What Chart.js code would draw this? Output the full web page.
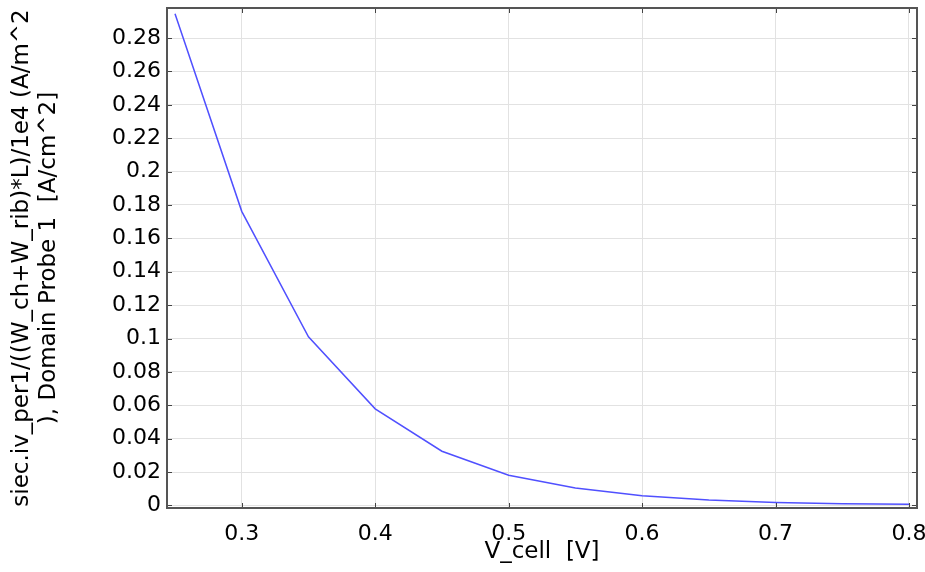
<!DOCTYPE html>
<html>
<head>
<meta charset="utf-8">
<script src="https://cdn.jsdelivr.net/npm/chart.js@4"></script>
<style>
  html, body { margin: 0; padding: 0; background: #fff; }
  #wrap { width: 925px; height: 572px; position: relative; }
</style>
</head>
<body>
<div id="wrap"><canvas id="iv-curve"></canvas></div>
<script>
// cell voltage [V] and current density [A/cm^2]
let cellVoltage = [0.25, 0.3, 0.35, 0.4, 0.45, 0.5, 0.55, 0.6, 0.65, 0.7, 0.75, 0.8];
let currentDensity = [0.2946, 0.1762, 0.101, 0.0579, 0.0325, 0.0181, 0.0105, 0.0059, 0.0033, 0.0018, 0.0011, 0.0007];

let xTickValues = [0.3, 0.4, 0.5, 0.6, 0.7, 0.8];
let yTickValues = [0, 0.02, 0.04, 0.06, 0.08, 0.1, 0.12, 0.14, 0.16, 0.18, 0.2, 0.22, 0.24, 0.26, 0.28];

let xTitle = 'V_cell  [V]';
let yTitle = ['siec.iv_per1/((W_ch+W_rib)*L)/1e4 (A/m^2', '), Domain Probe 1  [A/cm^2]'];

let fontFamily = '"DejaVu Sans", sans-serif';

// strip float noise from the tick values
function fmt(v) {
    return String(parseFloat(v.toFixed(4)));
}

// frame around the plot with small ticks pointing inwards on all four sides
const frameTicks = {
    id: 'frameTicks',
    afterDraw(chart) {
        let ctx = chart.ctx;
        let area = chart.chartArea;
        let xs = chart.scales.x, ys = chart.scales.y;
        let len = 5;
        ctx.save();
        ctx.strokeStyle = '#444';
        ctx.lineWidth = 1;
        ctx.beginPath();
        xs.ticks.forEach(t => {
            let px = Math.round(xs.getPixelForValue(t.value)) + 0.5;
            ctx.moveTo(px, area.bottom); ctx.lineTo(px, area.bottom - len);
            ctx.moveTo(px, area.top); ctx.lineTo(px, area.top + len);
        });
        ys.ticks.forEach(t => {
            let py = Math.round(ys.getPixelForValue(t.value)) + 0.5;
            ctx.moveTo(area.left, py); ctx.lineTo(area.left + len, py);
            ctx.moveTo(area.right, py); ctx.lineTo(area.right - len, py);
        });
        ctx.stroke();
        ctx.lineWidth = 2;
        ctx.strokeStyle = '#555';
        ctx.strokeRect(area.left, area.top, area.right - area.left, area.bottom - area.top);
        ctx.restore();
    }
};

let ivCtx = document.querySelector('#iv-curve').getContext('2d');

let ivGraph = new Chart(ivCtx, {
    type: 'line',
    data: {
        datasets: [{
            label: 'Domain Probe 1',
            data: cellVoltage.map((v, i) => ({ x: v, y: currentDensity[i] })),
            borderColor: '#5050ff',
            borderWidth: 1.5,
            pointRadius: 0,
            tension: 0,
            fill: false,
        }]
    },
    options: {
        responsive: true,
        maintainAspectRatio: false,
        animation: false,
        layout: {
            padding: { top: 8, right: 8, left: 0, bottom: 0 }
        },
        plugins: {
            legend: { display: false },
            tooltip: { enabled: false },
        },
        scales: {
            x: {
                type: 'linear',
                min: 0.244,
                max: 0.806,
                afterBuildTicks: scale => { scale.ticks = xTickValues.map(v => ({ value: v })); },
                afterFit: scale => { scale.height = 64; scale.paddingLeft = 0; scale.paddingRight = 0; },
                grid: { color: '#e2e2e2', drawTicks: false },
                border: { display: false },
                ticks: {
                    color: '#000',
                    padding: 13,
                    maxRotation: 0,
                    font: { family: fontFamily, size: 22 },
                    callback: v => fmt(v),
                },
                title: {
                    display: true,
                    text: xTitle,
                    color: '#000',
                    padding: { top: 0, bottom: 6 },
                    font: { family: fontFamily, size: 23 },
                },
            },
            y: {
                type: 'linear',
                min: -0.0015,
                max: 0.298,
                afterBuildTicks: scale => { scale.ticks = yTickValues.map(v => ({ value: v })); },
                afterFit: scale => { scale.width = 167; scale.paddingTop = 0; scale.paddingBottom = 0; },
                grid: { color: '#e2e2e2', drawTicks: false },
                border: { display: false },
                ticks: {
                    color: '#000',
                    padding: 6,
                    font: { family: fontFamily, size: 22 },
                    callback: v => fmt(v),
                },
                title: {
                    display: true,
                    text: yTitle,
                    color: '#000',
                    padding: { top: 9, bottom: 0 },
                    font: { family: fontFamily, size: 23, lineHeight: 1.15 },
                },
            }
        }
    },
    plugins: [frameTicks]
});
</script>
</body>
</html>
